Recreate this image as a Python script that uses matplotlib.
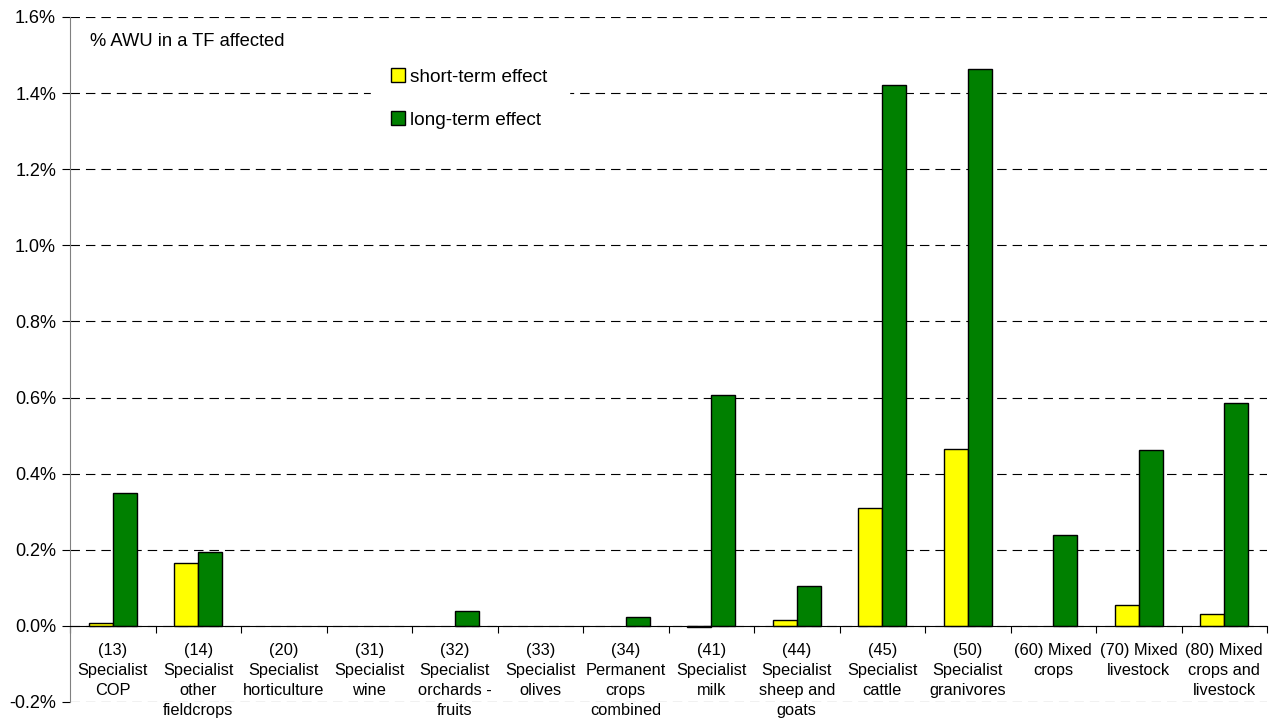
import numpy as np
import matplotlib.pyplot as plt
from matplotlib.patches import Patch
from matplotlib.ticker import FuncFormatter, FixedLocator

plt.rcParams['font.family'] = ['Liberation Sans', 'DejaVu Sans']

# Farm types
types = [
    "(13)\nSpecialist\nCOP",
    "(14)\nSpecialist\nother\nfieldcrops",
    "(20)\nSpecialist\nhorticulture",
    "(31)\nSpecialist\nwine",
    "(32)\nSpecialist\norchards -\nfruits",
    "(33)\nSpecialist\nolives",
    "(34)\nPermanent\ncrops\ncombined",
    "(41)\nSpecialist\nmilk",
    "(44)\nSpecialist\nsheep and\ngoats",
    "(45)\nSpecialist\ncattle",
    "(50)\nSpecialist\ngranivores",
    "(60) Mixed\ncrops",
    "(70) Mixed\nlivestock",
    "(80) Mixed\ncrops and\nlivestock",
]

# share of AWU affected, in %
short_term = [0.008, 0.165, 0.0, 0.0, 0.0, 0.0, 0.0, -0.003, 0.015, 0.31, 0.465, 0.0, 0.056, 0.03]
long_term = [0.35, 0.193, 0.0, 0.0, 0.04, 0.0, 0.024, 0.607, 0.105, 1.421, 1.463, 0.239, 0.462, 0.586]


def hide_zero(vals):
    # empty cells draw no bar at all
    v = np.array(vals, dtype=float)
    v[v == 0] = np.nan
    return v


fig = plt.figure(figsize=(12.71, 7.22), dpi=100)
ax = fig.add_axes([70 / 1271, 1 - 702 / 722, (1267 - 70) / 1271, (702 - 17) / 722])

x = np.arange(len(types))
w = 0.28
ax.bar(x - w / 2, hide_zero(short_term), w, color='#ffff00', edgecolor='black', linewidth=1, zorder=3)
ax.bar(x + w / 2, hide_zero(long_term), w, color='#008000', edgecolor='black', linewidth=1, zorder=3)

ax.set_xlim(-0.5, len(types) - 0.5)
ax.set_ylim(-0.2, 1.6)
ax.set_yticks(np.arange(-0.2, 1.61, 0.2))
ax.yaxis.set_major_formatter(FuncFormatter(lambda v, p: f"{v:.1f}%"))
ax.yaxis.grid(True, linestyle=(0, (8.5, 5.4)), color='black', linewidth=0.8)
ax.set_axisbelow(True)

# x axis sits on zero, ticks between categories, labels at centres
ax.spines['top'].set_visible(False)
ax.spines['right'].set_visible(False)
ax.spines['bottom'].set_position(('data', 0))
ax.spines['bottom'].set_zorder(4)
ax.spines['left'].set_color('#808080')
ax.xaxis.set_major_locator(FixedLocator(np.arange(-0.5, len(types), 1.0)))
ax.xaxis.set_minor_locator(FixedLocator(x))
ax.set_xticklabels([''] * (len(types) + 1))
ax.set_xticklabels(types, minor=True)
ax.tick_params(axis='x', which='major', direction='out', length=5, color='black')
ax.tick_params(axis='x', which='minor', length=0, pad=12, labelsize=11.8)
ax.tick_params(axis='y', direction='out', length=6, pad=4, labelsize=13)
for lbl in ax.xaxis.get_minorticklabels():
    lbl.set_verticalalignment('top')
    lbl.set_linespacing(1.44)

fig.text(90 / 1271, 1 - 42 / 722, "% AWU in a TF affected", fontsize=13.2, va='center')

handles = [Patch(facecolor='#ffff00', edgecolor='black', label='short-term effect'),
           Patch(facecolor='#008000', edgecolor='black', label='long-term effect')]
leg = fig.legend(handles=handles, loc='upper left', bbox_to_anchor=(361 / 1271, 1 - 38 / 722),
                 frameon=True, fontsize=13.7, handlelength=0.7, handleheight=0.7,
                 handletextpad=0.3, labelspacing=1.35, borderpad=1.1, fancybox=False)
leg.get_frame().set_facecolor('white')
leg.get_frame().set_edgecolor('white')
leg.get_frame().set_alpha(1)

fig.savefig("out.png", dpi=100)
